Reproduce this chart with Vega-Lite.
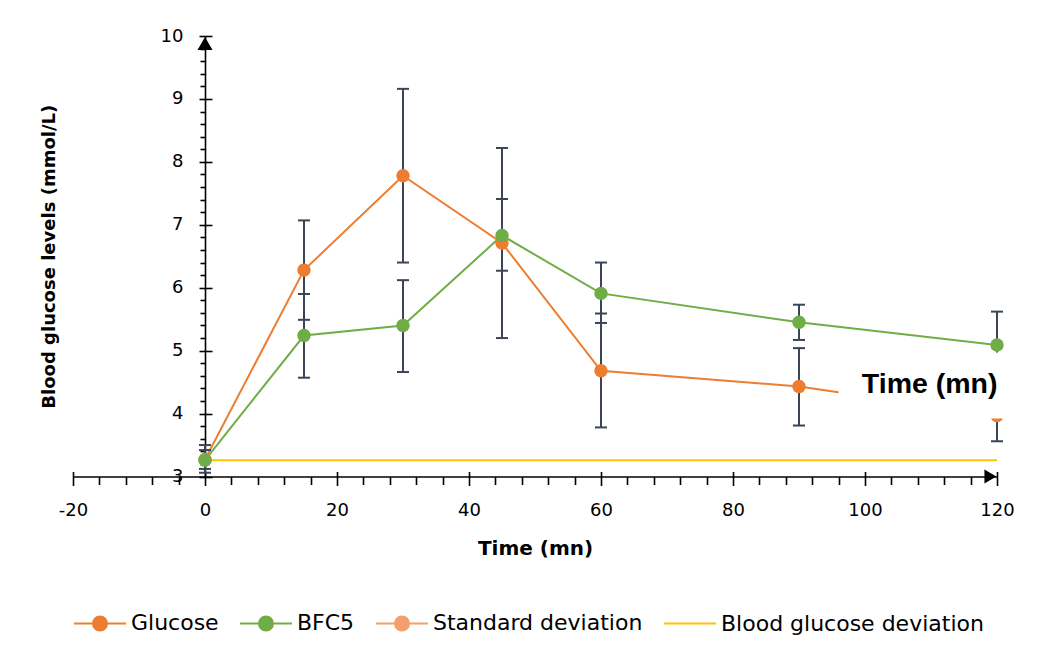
{
  "$schema": "https://vega.github.io/schema/vega-lite/v6.json",
  "width": 924,
  "height": 440.5,
  "autosize": {"type": "none"},
  "padding": {"left": 73, "top": 36, "right": 46, "bottom": 183.5},
  "background": "white",
  "config": {
    "view": {"stroke": null},
    "axis": {"grid": false, "labelFont": "DejaVu Sans", "titleFont": "DejaVu Sans", "domainColor": "#000", "tickColor": "#000", "labelColor": "#000", "titleColor": "#000", "domainWidth": 1.6, "tickWidth": 1.6, "labelFlush": false, "labelOverlap": false, "labelBound": false}
  },
  "datasets": {
    "obs": [
      {"series": "Glucose", "t": 0, "y": 3.27, "lo": 3.06, "hi": 3.5},
      {"series": "Glucose", "t": 15, "y": 6.28, "lo": 5.49, "hi": 7.07},
      {"series": "Glucose", "t": 30, "y": 7.78, "lo": 6.4, "hi": 9.16},
      {"series": "Glucose", "t": 45, "y": 6.71, "lo": 5.2, "hi": 8.22},
      {"series": "Glucose", "t": 60, "y": 4.68, "lo": 3.78, "hi": 5.59},
      {"series": "Glucose", "t": 90, "y": 4.43, "lo": 3.81, "hi": 5.04},
      {"series": "Glucose", "t": 120, "y": 3.97, "lo": 3.56, "hi": 4.38},
      {"series": "BFC5", "t": 0, "y": 3.26, "lo": 3.12, "hi": 3.42},
      {"series": "BFC5", "t": 15, "y": 5.24, "lo": 4.57, "hi": 5.9},
      {"series": "BFC5", "t": 30, "y": 5.4, "lo": 4.66, "hi": 6.12},
      {"series": "BFC5", "t": 45, "y": 6.83, "lo": 6.27, "hi": 7.41},
      {"series": "BFC5", "t": 60, "y": 5.91, "lo": 5.44, "hi": 6.4},
      {"series": "BFC5", "t": 90, "y": 5.45, "lo": 5.17, "hi": 5.73},
      {"series": "BFC5", "t": 120, "y": 5.09, "lo": 4.56, "hi": 5.62}
    ],
    "baseline": [
      {"series": "Blood glucose deviation", "t": 0, "y": 3.26},
      {"series": "Blood glucose deviation", "t": 120, "y": 3.26}
    ],
    "note": [{"t1": 96, "t2": 122, "y1": 3.92, "y2": 4.97, "tx": 109.8, "ty": 4.33, "label": "Time (mn)"}],
    "xarrow": [{"t": 119.0, "y": 3}],
    "yarrow": [{"t": 0, "y": 9.88}]
  },
  "layer": [
    {
      "data": {"name": "obs"},
      "mark": {"type": "line", "strokeWidth": 2},
      "encoding": {
        "x": {"field": "t", "type": "quantitative", "scale": {"domain": [-20, 120], "nice": false, "zero": false},
          "axis": {"orient": "bottom", "values": [-20, 0, 20, 40, 60, 80, 100, 120], "labelExpr": "'' + datum.value", "tickSize": 9, "labelPadding": 16, "labelFontSize": 18, "title": "Time (mn)", "titleFontSize": 20, "titleFontWeight": "bold", "titlePadding": 19}},
        "y": {"field": "y", "type": "quantitative", "scale": {"domain": [3, 10], "nice": false, "zero": false},
          "axis": {"orient": "left", "offset": -132, "values": [3, 4, 5, 6, 7, 8, 9, 10], "tickSize": 6, "labelPadding": 16, "labelFontSize": 18, "title": "Blood glucose levels (mmol/L)", "titleFontSize": 18, "titleFontWeight": "bold", "titlePadding": 102}},
        "color": {"field": "series", "type": "nominal",
          "scale": {"domain": ["Glucose", "BFC5", "Standard deviation", "Blood glucose deviation"], "range": ["#ED7D31", "#70AD47", "#F4A06A", "#FFC000"]}}
      }
    },
    {
      "data": {"name": "baseline"},
      "mark": {"type": "line", "strokeWidth": 2},
      "encoding": {
        "x": {"field": "t", "type": "quantitative",
          "axis": {"orient": "bottom", "values": [-16, -12, -8, -4, 4, 8, 12, 16, 24, 28, 32, 36, 44, 48, 52, 56, 64, 68, 72, 76, 84, 88, 92, 96, 104, 108, 112, 116], "tickSize": 8, "labels": false, "domain": false, "title": null}},
        "y": {"field": "y", "type": "quantitative",
          "axis": {"orient": "left", "offset": -132, "values": [3.2, 3.4, 3.6, 3.8, 4.2, 4.4, 4.6, 4.8, 5.2, 5.4, 5.6, 5.8, 6.2, 6.4, 6.6, 6.8, 7.2, 7.4, 7.6, 7.8, 8.2, 8.4, 8.6, 8.8, 9.2, 9.4, 9.6, 9.8], "tickSize": 5, "labels": false, "domain": false, "title": null}},
        "color": {"field": "series", "type": "nominal"}
      }
    },
    {
      "data": {"name": "obs"},
      "mark": {"type": "errorbar", "color": "#3B4556", "thickness": 2, "ticks": {"size": 12, "thickness": 2, "color": "#3B4556", "opacity": 1}},
      "encoding": {
        "x": {"field": "t", "type": "quantitative",
          "axis": {"orient": "bottom", "values": [-20, 0, 20, 40, 60, 80, 100, 120], "tickSize": -5, "labels": false, "domain": false, "title": null}},
        "y": {"field": "lo", "type": "quantitative",
          "axis": {"orient": "left", "offset": -132, "values": [3, 4, 5, 6, 7, 8, 9, 10], "tickSize": -7, "labels": false, "domain": false, "title": null}},
        "y2": {"field": "hi"}
      }
    },
    {
      "data": {"name": "obs"},
      "mark": {"type": "point", "filled": true, "size": 180, "opacity": 1, "shape": "circle"},
      "encoding": {
        "x": {"field": "t", "type": "quantitative", "axis": null},
        "y": {"field": "y", "type": "quantitative", "axis": null},
        "color": {"field": "series", "type": "nominal"}
      }
    },
    {
      "data": {"name": "note"},
      "mark": {"type": "rect", "fill": "white"},
      "encoding": {
        "x": {"field": "t1", "type": "quantitative", "axis": null},
        "x2": {"field": "t2"},
        "y": {"field": "y1", "type": "quantitative", "axis": null},
        "y2": {"field": "y2"}
      }
    },
    {
      "data": {"name": "note"},
      "mark": {"type": "text", "font": "Liberation Sans", "fontWeight": "bold", "fontSize": 28.5, "align": "center", "baseline": "alphabetic", "color": "#000"},
      "encoding": {
        "x": {"field": "tx", "type": "quantitative", "axis": null},
        "y": {"field": "ty", "type": "quantitative", "axis": null},
        "text": {"field": "label"}
      }
    },
    {
      "data": {"name": "xarrow"},
      "mark": {"type": "point", "shape": "triangle-right", "filled": true, "size": 190, "color": "#000", "opacity": 1},
      "encoding": {
        "x": {"field": "t", "type": "quantitative", "axis": null},
        "y": {"field": "y", "type": "quantitative", "axis": null}
      }
    },
    {
      "data": {"name": "yarrow"},
      "mark": {"type": "point", "shape": "triangle-up", "filled": true, "size": 225, "color": "#000", "opacity": 1},
      "encoding": {
        "x": {"field": "t", "type": "quantitative", "axis": null},
        "y": {"field": "y", "type": "quantitative", "axis": null}
      }
    },
    {
      "data": {"name": "obs"},
      "mark": {"type": "point", "filled": true, "opacity": 0},
      "encoding": {
        "x": {"field": "t", "type": "quantitative", "axis": null},
        "y": {"field": "y", "type": "quantitative", "axis": null},
        "color": {"field": "series", "type": "nominal",
          "scale": {"domain": ["Glucose", "BFC5", "Standard deviation", "Blood glucose deviation"], "range": ["#ED7D31", "#70AD47", "#F4A06A", "#FFC000"]},
          "legend": {"orient": "bottom", "direction": "horizontal", "title": null, "symbolSize": 2704, "symbolStrokeWidth": 2, "labelFont": "DejaVu Sans", "labelFontSize": 22, "labelColor": "#000", "labelLimit": 400, "columnPadding": 17, "labelOffset": 4, "offset": 37,
            "encode": {"symbols": {"update": {"fill": {"scale": "color", "field": "value"}, "stroke": {"scale": "color", "field": "value"}, "opacity": {"value": 1}, "fillOpacity": {"value": 1}, "strokeOpacity": {"value": 1}, "strokeWidth": {"value": 2}, "size": {"value": 2704}}}}}},
        "shape": {"field": "series", "type": "nominal",
          "scale": {"domain": ["Glucose", "BFC5", "Standard deviation", "Blood glucose deviation"], "range": ["M-1,0L1,0M0.27,0A0.27,0.27,0,1,1,-0.27,0A0.27,0.27,0,1,1,0.27,0Z", "M-1,0L1,0M0.27,0A0.27,0.27,0,1,1,-0.27,0A0.27,0.27,0,1,1,0.27,0Z", "M-1,0L1,0M0.27,0A0.27,0.27,0,1,1,-0.27,0A0.27,0.27,0,1,1,0.27,0Z", "M-1,0L1,0"]},
          "legend": {"orient": "bottom", "direction": "horizontal", "title": null, "symbolSize": 2704, "symbolStrokeWidth": 2, "labelFont": "DejaVu Sans", "labelFontSize": 22, "labelColor": "#000", "labelLimit": 400, "columnPadding": 17, "labelOffset": 4, "offset": 37}}
      }
    }
  ],
  "resolve": {"axis": {"x": "independent", "y": "independent"}}
}
